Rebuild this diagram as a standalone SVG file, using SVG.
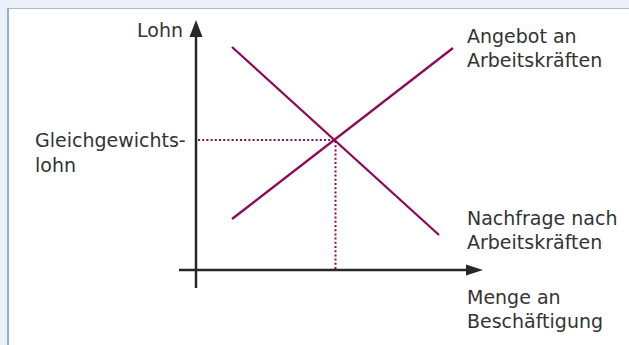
<svg xmlns="http://www.w3.org/2000/svg" width="629" height="345" viewBox="0 0 629 345">
<style>
text{font-family:"DejaVu Sans","Liberation Sans",sans-serif;font-size:19px;fill:#333333}
.ax{stroke:#2a2526;stroke-width:2.5;fill:none}
.cv{stroke:#8a0b58;stroke-width:2.3;fill:none;stroke-linecap:butt}
.dt{stroke:#8a0b58;stroke-width:2;fill:none;stroke-dasharray:2 2.2}
</style>
<rect x="0" y="0" width="629" height="345" fill="#eaeff8"/>
<rect x="8" y="8.5" width="630" height="345" fill="#ffffff"/>
<line x1="8" y1="8.5" x2="629" y2="8.5" stroke="#a7b8d3" stroke-width="1"/>
<line x1="8" y1="8" x2="8" y2="345" stroke="#97aed3" stroke-width="2"/>
<g id="connectors">
<line class="dt" x1="198" y1="140" x2="334" y2="140"/>
<line class="dt" x1="335.5" y1="141" x2="335.5" y2="269"/>
<line class="ax" x1="196" y1="288" x2="196" y2="34"/>
<polygon points="196,20 189.5,37 202.5,37" fill="#2a2526"/>
<line class="ax" x1="179" y1="270" x2="468" y2="270"/>
<polygon points="483,270 466,264.5 466,275.5" fill="#2a2526"/>
</g>
<g id="supply">
<line class="cv" x1="232" y1="219" x2="453" y2="48"/>
</g>
<g id="demand">
<line class="cv" x1="232" y1="47" x2="439" y2="235"/>
</g>
<g id="labels">
<text x="137" y="37">Lohn</text>
<text x="467" y="42.5">Angebot an</text>
<text x="467" y="67">Arbeitskräften</text>
<text x="35" y="147">Gleichgewichts-</text>
<text x="35" y="171.5">lohn</text>
<text x="467" y="225">Nachfrage nach</text>
<text x="467" y="249">Arbeitskräften</text>
<text x="467" y="304">Menge an</text>
<text x="467" y="328">Beschäftigung</text>
</g>
</svg>
